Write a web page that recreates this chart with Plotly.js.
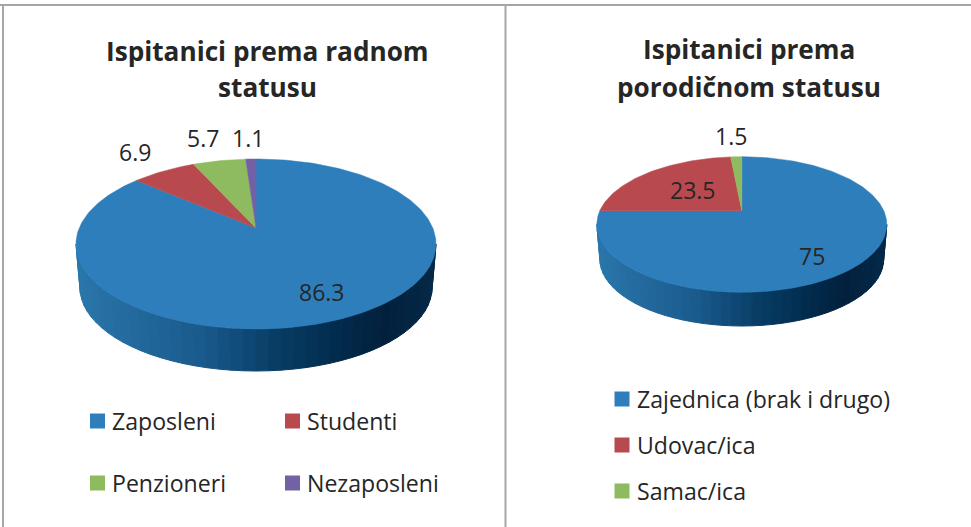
<!DOCTYPE html>
<html><head><meta charset="utf-8">
<script src="https://cdn.plot.ly/plotly-3.0.1.min.js"></script>
<style>html,body{margin:0;padding:0;background:#fff}#c{width:971px;height:527px}</style>
</head><body><div id="c"></div>
<script>
// --- data ---
const workCategories = ["Zaposleni", "Studenti", "Penzioneri", "Nezaposleni"];
const workValues = [86.3, 6.9, 5.7, 1.1];
const familyCategories = ["Zajednica (brak i drugo)", "Udovac/ica", "Samac/ica"];
const familyValues = [75, 23.5, 1.5];
const workTitle = ["Ispitanici prema radnom", "statusu"];
const familyTitle = ["Ispitanici prema", "porodičnom statusu"];

// --- style and layout ---
const colors = ["#2E7EBC", "#B84A4F", "#8EBB5F", "#7361A6"];
const FONT = "Open Sans";
const textColor = "#262626";
const workGeo = {cx:256, apex:228, top:159, bottom:329, rx:180, bottomEdge:371, shrink:0.978};
const familyGeo = {cx:741.8, apex:210.7, top:156.7, bottom:292.3, rx:145, bottomEdge:326, shrink:0.978};
const sideStops = [[0,[42,118,171]],[0.35,[26,90,140]],[0.55,[8,62,103]],[0.72,[2,44,78]],[0.86,[2,32,61]],[1,[4,40,72]]];

function projector(g){
  const a=g.apex,T=g.top,B=g.bottom;
  // solve (a+b)/(1+c)=T and (a-b)/(1-c)=B
  const cc=(B+T-2*a)/(B-T);
  const b=T*(1+cc)-a;
  const k=g.rx*Math.sqrt(1-cc*cc);
  return th=>{
    const u=Math.sin(th),v=Math.cos(th),d=1+cc*v;
    return [g.cx+k*u/d,(a+b*v)/d];
  };
}
function sideColor(t){
  for(let i=1;i<sideStops.length;i++){
    if(t<=sideStops[i][0]){
      const [p,A]=sideStops[i-1],[q,C]=sideStops[i],f=(t-p)/(q-p);
      return "rgb("+A.map((x,j)=>Math.round(x+(C[j]-x)*f)).join(",")+")";
    }
  }
  return "rgb(4,40,72)";
}
function pieTraces(values,cats,g){
  const out=[];
  const ry=(g.bottom-g.top)/2, cy=(g.bottom+g.top)/2;
  const ryB=ry*0.98, cyB=g.bottomEdge-ryB, rxB=g.rx*g.shrink;
  const bands=44;
  for(let i=0;i<bands;i++){
    const p0=Math.PI*(1-i/bands), p1=Math.PI*(1-(i+1)/bands);
    const x=[g.cx+g.rx*Math.cos(p0),g.cx+g.rx*Math.cos(p1),g.cx+rxB*Math.cos(p1),g.cx+rxB*Math.cos(p0)];
    const y=[cy+ry*Math.sin(p0),cy+ry*Math.sin(p1),cyB+ryB*Math.sin(p1),cyB+ryB*Math.sin(p0)];
    x.push(x[0]);y.push(y[0]);
    const col=sideColor((g.rx*(Math.cos(p0)+Math.cos(p1))/2+g.rx)/(2*g.rx));
    out.push({type:"scatter",mode:"lines",x,y,fill:"toself",fillcolor:col,line:{color:col,width:1},hoverinfo:"skip",showlegend:false});
  }
  const P=projector(g), tot=values.reduce((s,v)=>s+v,0);
  let acc=0;
  values.forEach((v,i)=>{
    const x=[g.cx],y=[g.apex];
    const n=Math.max(4,Math.ceil(v*3));
    for(let j=0;j<=n;j++){
      const [px,py]=P(2*Math.PI*(acc+v*j/n)/tot);
      x.push(px);y.push(py);
    }
    x.push(g.cx);y.push(g.apex);
    acc+=v;
    out.push({type:"scatter",mode:"lines",x,y,fill:"toself",fillcolor:colors[i],line:{color:colors[i],width:0.5},name:cats[i],hoverinfo:"name",showlegend:false});
  });
  return out;
}
function keyTrace(cats,xs,ys){
  return {type:"scatter",mode:"markers",x:xs,y:ys,text:cats,hoverinfo:"text",showlegend:false,
    marker:{symbol:"square",size:15,color:cats.map((_,i)=>colors[i]),line:{width:0}}};
}
function txt(text,x,y,size,anchor,bold){
  return {text:bold?"<b>"+text+"</b>":text,x,y,xref:"x",yref:"y",xanchor:anchor,yanchor:"middle",showarrow:false,
    font:{family:FONT,size,color:textColor}};
}
const workKeyX=[97.5,292.5,97.5,292.5], workKeyY=[421,421,483,483];
const familyKeyX=[622,622,622], familyKeyY=[399,445,491];

const data=[
  ...pieTraces(workValues,workCategories,workGeo),
  ...pieTraces(familyValues,familyCategories,familyGeo),
  keyTrace(workCategories,workKeyX,workKeyY),
  keyTrace(familyCategories,familyKeyX,familyKeyY)
];
const titleSize=26.2, labelSize=23, legendSize=23.1;
const annotations=[
  txt(workTitle[0],267.5,51,titleSize,"center",true),
  txt(workTitle[1],267.5,87,titleSize,"center",true),
  txt(familyTitle[0],749,49,titleSize,"center",true),
  txt(familyTitle[1],749,87,titleSize,"center",true),
  txt(String(workValues[0]),322,292,labelSize,"center"),
  txt(String(workValues[1]),135,152,labelSize,"center"),
  txt(String(workValues[2]),203,138,labelSize,"center"),
  txt(String(workValues[3]),248,138,labelSize,"center"),
  txt(String(familyValues[0]),812,256,labelSize,"center"),
  txt(String(familyValues[1]),693,190,labelSize,"center"),
  txt(String(familyValues[2]),731,136,labelSize,"center"),
  ...workCategories.map((c,i)=>txt(c,workKeyX[i]+12.5,workKeyY[i],legendSize,"left")),
  ...familyCategories.map((c,i)=>txt(c,familyKeyX[i]+12.5,familyKeyY[i],legendSize,"left"))
];
const frame=(x0,y0,x1,y1)=>({type:"line",xref:"x",yref:"y",x0,y0,x1,y1,line:{color:"#A6A6A6",width:2}});
const layout={
  width:971,height:527,margin:{l:0,r:0,t:0,b:0},paper_bgcolor:"#fff",plot_bgcolor:"#fff",showlegend:false,
  xaxis:{range:[0,971],visible:false,fixedrange:true},
  yaxis:{range:[527,0],visible:false,fixedrange:true},
  shapes:[frame(0,5,971,5),frame(3,5,3,527),frame(505.5,5,505.5,527)],
  annotations
};
Plotly.newPlot("c",data,layout,{displayModeBar:false,staticPlot:true});
</script></body></html>
